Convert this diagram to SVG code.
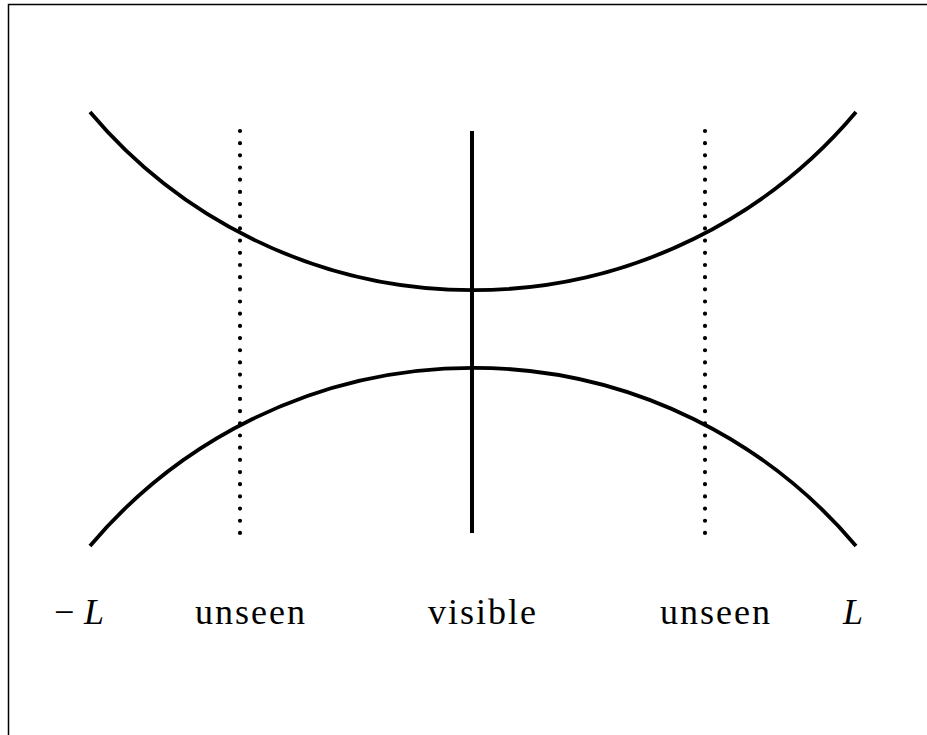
<svg xmlns="http://www.w3.org/2000/svg" width="927" height="735" viewBox="0 0 927 735">
<style>
.curve{fill:none;stroke:#000;stroke-width:3.8}
.dot{fill:none;stroke:#000;stroke-width:4.2;stroke-linecap:round;stroke-dasharray:0 12.18}
.lbl{font-family:"Liberation Serif",serif;font-size:36px;fill:#000;letter-spacing:2px}
.it{font-style:italic;letter-spacing:0}
</style>
<rect x="8.5" y="4.5" width="930" height="740" fill="#fff" stroke="#000" stroke-width="1.5"/>
<g id="curves">
<path id="top-curve" class="curve" d="M90,112 A500.7,500.7 0 0 0 856,112"/>
<path id="bottom-curve" class="curve" d="M90,546 A500.7,500.7 0 0 1 856,546"/>
</g>
<g id="connectors">
<line id="visible-line" x1="472" y1="131" x2="472" y2="533" stroke="#000" stroke-width="4"/>
<line id="left-unseen" class="dot" x1="240" y1="131" x2="240" y2="534"/>
<line id="right-unseen" class="dot" x1="705" y1="131" x2="705" y2="534"/>
</g>
<g id="labels">
<text class="lbl" x="54" y="624">−<tspan class="it" x="84">L</tspan></text>
<text class="lbl" x="195" y="624">unseen</text>
<text class="lbl" x="428" y="624">visible</text>
<text class="lbl" x="660" y="624">unseen</text>
<text class="lbl it" x="843" y="624">L</text>
</g>
</svg>
